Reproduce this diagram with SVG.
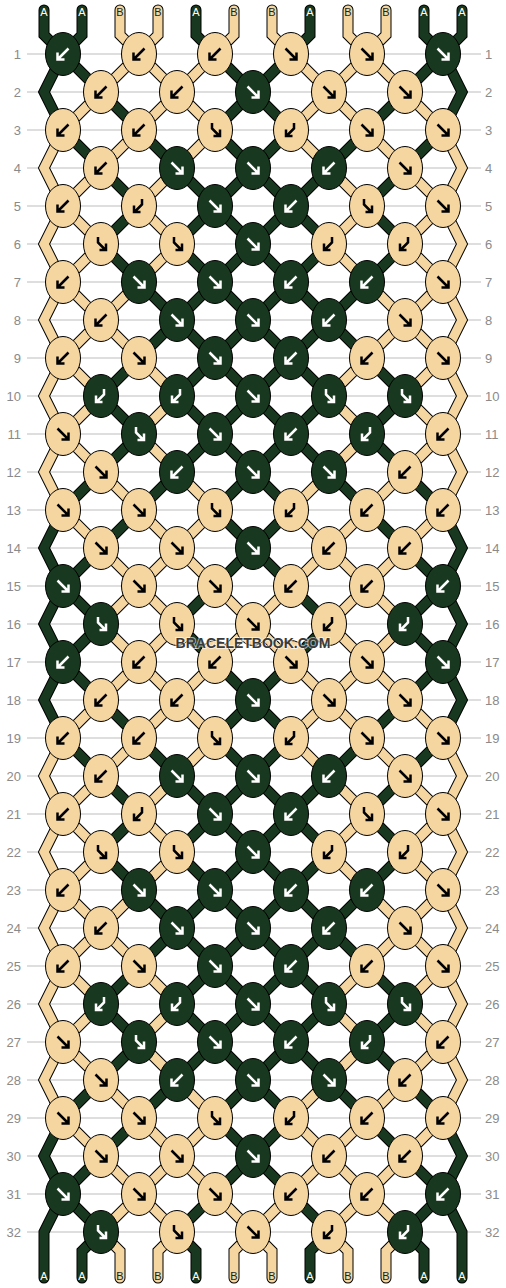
<svg xmlns="http://www.w3.org/2000/svg" width="506" height="1288" viewBox="0 0 506 1288">
<style>
.grid{fill:none;stroke:#bdbdbd;stroke-width:1}
.num{font-family:"Liberation Sans",Arial,sans-serif;font-size:13px;fill:#8a8a8a}
.lbl{font-family:"Liberation Sans",Arial,sans-serif;font-size:11px;text-anchor:middle}
.la{fill:#ffffff}.lb{fill:#222222}
.ol{fill:none;stroke:#000;stroke-width:11;stroke-linecap:round;stroke-linejoin:miter}
.cA{fill:none;stroke:#18381f;stroke-width:9;stroke-linecap:round;stroke-linejoin:miter}
.cB{fill:none;stroke:#f5d6a0;stroke-width:9;stroke-linecap:round;stroke-linejoin:miter}
.D ellipse{fill:#18381f;stroke:#000;stroke-width:1}
.L ellipse{fill:#f5d6a0;stroke:#000;stroke-width:1}
.D use{stroke:#ffffff}
.L use{stroke:#000000}
.ar{fill:none;stroke-width:2.5;stroke-linejoin:miter;stroke-linecap:butt}
.wm{font-family:"Liberation Sans",Arial,sans-serif;font-size:14px;font-weight:bold;text-anchor:middle;fill:#3a3a3a;stroke:#ffffff;stroke-width:2;stroke-opacity:0.6;paint-order:stroke}
</style>
<defs>
<path id="af" class="ar" d="M-5.5,-5.5L4.5,4.5M-1.5,5.5H5.5V-1.5"/>
<path id="ab" class="ar" d="M5.5,-5.5L-4.5,4.5M1.5,5.5H-5.5V-1.5"/>
<path id="afb" class="ar" d="M-3,-7V-1.5L4,5.5M-1.5,6H5V-0.5"/>
<path id="abf" class="ar" d="M3,-7V-1.5L-4,5.5M1.5,6H-5V-0.5"/>
<path id="hA" d="M63,54l38,38M215,54l38,38M291,54l-38,38M443,54l-38,38M101,92l38,38M253,92l-38,38M253,92l38,38M405,92l-38,38M63,130l38,38M139,130l38,38M215,130l38,38M291,130l-38,38M367,130l-38,38M443,130l-38,38M101,168l38,38M177,168l38,38M253,168l-38,38M253,168l38,38M329,168l-38,38M405,168l-38,38M139,206l-38,38M215,206l-38,38M215,206l38,38M291,206l-38,38M291,206l38,38M367,206l38,38M101,244l38,38M177,244l38,38M253,244l-38,38M253,244l38,38M329,244l-38,38M405,244l-38,38M139,282l38,38M215,282l-38,38M215,282l38,38M291,282l-38,38M291,282l38,38M367,282l-38,38M177,320l-38,38M177,320l38,38M253,320l-38,38M253,320l38,38M329,320l-38,38M329,320l38,38M139,358l-38,38M215,358l-38,38M215,358l38,38M291,358l-38,38M291,358l38,38M367,358l38,38M101,396l38,38M177,396l38,38M253,396l-38,38M253,396l38,38M329,396l-38,38M405,396l-38,38M139,434l-38,38M215,434l-38,38M215,434l38,38M291,434l-38,38M291,434l38,38M367,434l38,38M101,472l-38,38M177,472l-38,38M253,472l-38,38M253,472l38,38M329,472l38,38M405,472l38,38M139,510l-38,38M215,510l38,38M291,510l-38,38M367,510l38,38M101,548l-38,38M253,548l-38,38M253,548l38,38M405,548l38,38M63,586l38,38M215,586l-38,38M291,586l38,38M443,586l-38,38"/>
<path id="hB" d="M139,54l-38,38M139,54l38,38M215,54l-38,38M291,54l38,38M367,54l-38,38M367,54l38,38M101,92l-38,38M177,92l-38,38M177,92l38,38M329,92l-38,38M329,92l38,38M405,92l38,38M139,130l-38,38M215,130l-38,38M291,130l38,38M367,130l38,38M101,168l-38,38M177,168l-38,38M329,168l38,38M405,168l38,38M63,206l38,38M139,206l38,38M367,206l-38,38M443,206l-38,38M101,244l-38,38M177,244l-38,38M329,244l38,38M405,244l38,38M63,282l38,38M139,282l-38,38M367,282l38,38M443,282l-38,38M101,320l-38,38M101,320l38,38M405,320l-38,38M405,320l38,38M63,358l38,38M139,358l38,38M367,358l-38,38M443,358l-38,38M101,396l-38,38M177,396l-38,38M329,396l38,38M405,396l38,38M63,434l38,38M139,434l38,38M367,434l-38,38M443,434l-38,38M101,472l38,38M177,472l38,38M329,472l-38,38M405,472l-38,38M63,510l38,38M139,510l38,38M215,510l-38,38M291,510l38,38M367,510l-38,38M443,510l-38,38M101,548l38,38M177,548l-38,38M177,548l38,38M329,548l-38,38M329,548l38,38M405,548l-38,38M139,586l-38,38M139,586l38,38M215,586l38,38M291,586l-38,38M367,586l-38,38M367,586l38,38"/>
<path id="xA" d="M101,624l-38,38M177,624l38,38M329,624l-38,38M405,624l38,38M44,10V35L63,54M82,10V35L63,54M196,10V35L215,54M310,10V35L291,54M424,10V35L443,54M462,10V35L443,54M101,1232L82,1251V1278M177,1232L196,1251V1278M329,1232L310,1251V1278M405,1232L424,1251V1278M63,54L44,92L63,130M63,510L44,548L63,586L44,624L63,662L44,700L63,738M63,1118L44,1156L63,1194L44,1232V1278M443,54L462,92L443,130M443,510L462,548L443,586L462,624L443,662L462,700L443,738M443,1118L462,1156L443,1194L462,1232V1278"/>
<path id="xB" d="M101,624l38,38M177,624l-38,38M253,624l-38,38M253,624l38,38M329,624l38,38M405,624l-38,38M120,10V35L139,54M158,10V35L139,54M234,10V35L215,54M272,10V35L291,54M348,10V35L367,54M386,10V35L367,54M101,1232L120,1251V1278M177,1232L158,1251V1278M253,1232L234,1251V1278M253,1232L272,1251V1278M329,1232L348,1251V1278M405,1232L386,1251V1278M63,130L44,168L63,206L44,244L63,282L44,320L63,358L44,396L63,434L44,472L63,510M63,738L44,776L63,814L44,852L63,890L44,928L63,966L44,1004L63,1042L44,1080L63,1118M443,130L462,168L443,206L462,244L443,282L462,320L443,358L462,396L443,434L462,472L443,510M443,738L462,776L443,814L462,852L443,890L462,928L443,966L462,1004L443,1042L462,1080L443,1118"/>
</defs>
<rect width="506" height="1288" fill="#ffffff"/>
<path class="grid" d="M27,54H481M27,92H481M27,130H481M27,168H481M27,206H481M27,244H481M27,282H481M27,320H481M27,358H481M27,396H481M27,434H481M27,472H481M27,510H481M27,548H481M27,586H481M27,624H481M27,662H481M27,700H481M27,738H481M27,776H481M27,814H481M27,852H481M27,890H481M27,928H481M27,966H481M27,1004H481M27,1042H481M27,1080H481M27,1118H481M27,1156H481M27,1194H481M27,1232H481"/>
<g id="row-numbers" class="num">
<g text-anchor="end">
<text x="21" y="59">1</text><text x="21" y="97">2</text><text x="21" y="135">3</text><text x="21" y="173">4</text><text x="21" y="211">5</text><text x="21" y="249">6</text><text x="21" y="287">7</text><text x="21" y="325">8</text><text x="21" y="363">9</text><text x="21" y="401">10</text><text x="21" y="439">11</text><text x="21" y="477">12</text><text x="21" y="515">13</text><text x="21" y="553">14</text><text x="21" y="591">15</text><text x="21" y="629">16</text><text x="21" y="667">17</text><text x="21" y="705">18</text><text x="21" y="743">19</text><text x="21" y="781">20</text><text x="21" y="819">21</text><text x="21" y="857">22</text><text x="21" y="895">23</text><text x="21" y="933">24</text><text x="21" y="971">25</text><text x="21" y="1009">26</text><text x="21" y="1047">27</text><text x="21" y="1085">28</text><text x="21" y="1123">29</text><text x="21" y="1161">30</text><text x="21" y="1199">31</text><text x="21" y="1237">32</text>
</g>
<g text-anchor="start">
<text x="485" y="59">1</text><text x="485" y="97">2</text><text x="485" y="135">3</text><text x="485" y="173">4</text><text x="485" y="211">5</text><text x="485" y="249">6</text><text x="485" y="287">7</text><text x="485" y="325">8</text><text x="485" y="363">9</text><text x="485" y="401">10</text><text x="485" y="439">11</text><text x="485" y="477">12</text><text x="485" y="515">13</text><text x="485" y="553">14</text><text x="485" y="591">15</text><text x="485" y="629">16</text><text x="485" y="667">17</text><text x="485" y="705">18</text><text x="485" y="743">19</text><text x="485" y="781">20</text><text x="485" y="819">21</text><text x="485" y="857">22</text><text x="485" y="895">23</text><text x="485" y="933">24</text><text x="485" y="971">25</text><text x="485" y="1009">26</text><text x="485" y="1047">27</text><text x="485" y="1085">28</text><text x="485" y="1123">29</text><text x="485" y="1161">30</text><text x="485" y="1199">31</text><text x="485" y="1237">32</text>
</g>
</g>
<g id="connectors">
<use href="#hA" class="ol"/><use href="#hA" class="ol" transform="translate(0,608)"/>
<use href="#hB" class="ol"/><use href="#hB" class="ol" transform="translate(0,608)"/>
<use href="#xA" class="ol"/><use href="#xB" class="ol"/>
<use href="#hA" class="cA"/><use href="#hA" class="cA" transform="translate(0,608)"/>
<use href="#xA" class="cA"/>
<use href="#hB" class="cB"/><use href="#hB" class="cB" transform="translate(0,608)"/>
<use href="#xB" class="cB"/>
</g>
<g id="string-labels" class="lbl">
<text class="la" x="44" y="16">A</text><text class="la" x="82" y="16">A</text><text class="lb" x="120" y="16">B</text><text class="lb" x="158" y="16">B</text><text class="la" x="196" y="16">A</text><text class="lb" x="234" y="16">B</text><text class="lb" x="272" y="16">B</text><text class="la" x="310" y="16">A</text><text class="lb" x="348" y="16">B</text><text class="lb" x="386" y="16">B</text><text class="la" x="424" y="16">A</text><text class="la" x="462" y="16">A</text>
<text class="la" x="44" y="1280">A</text><text class="la" x="82" y="1280">A</text><text class="lb" x="120" y="1280">B</text><text class="lb" x="158" y="1280">B</text><text class="la" x="196" y="1280">A</text><text class="lb" x="234" y="1280">B</text><text class="lb" x="272" y="1280">B</text><text class="la" x="310" y="1280">A</text><text class="lb" x="348" y="1280">B</text><text class="lb" x="386" y="1280">B</text><text class="la" x="424" y="1280">A</text><text class="la" x="462" y="1280">A</text>
</g>
<g id="knots">
<g id="n1-1" class="D" transform="translate(63,54)"><ellipse rx="17.5" ry="21.5"/><use href="#ab"/></g>
<g id="n1-2" class="L" transform="translate(139,54)"><ellipse rx="17.5" ry="21.5"/><use href="#ab"/></g>
<g id="n1-3" class="L" transform="translate(215,54)"><ellipse rx="17.5" ry="21.5"/><use href="#ab"/></g>
<g id="n1-4" class="L" transform="translate(291,54)"><ellipse rx="17.5" ry="21.5"/><use href="#af"/></g>
<g id="n1-5" class="L" transform="translate(367,54)"><ellipse rx="17.5" ry="21.5"/><use href="#af"/></g>
<g id="n1-6" class="D" transform="translate(443,54)"><ellipse rx="17.5" ry="21.5"/><use href="#af"/></g>
<g id="n2-1" class="L" transform="translate(101,92)"><ellipse rx="17.5" ry="21.5"/><use href="#ab"/></g>
<g id="n2-2" class="L" transform="translate(177,92)"><ellipse rx="17.5" ry="21.5"/><use href="#ab"/></g>
<g id="n2-3" class="D" transform="translate(253,92)"><ellipse rx="17.5" ry="21.5"/><use href="#af"/></g>
<g id="n2-4" class="L" transform="translate(329,92)"><ellipse rx="17.5" ry="21.5"/><use href="#af"/></g>
<g id="n2-5" class="L" transform="translate(405,92)"><ellipse rx="17.5" ry="21.5"/><use href="#af"/></g>
<g id="n3-1" class="L" transform="translate(63,130)"><ellipse rx="17.5" ry="21.5"/><use href="#ab"/></g>
<g id="n3-2" class="L" transform="translate(139,130)"><ellipse rx="17.5" ry="21.5"/><use href="#ab"/></g>
<g id="n3-3" class="L" transform="translate(215,130)"><ellipse rx="17.5" ry="21.5"/><use href="#afb"/></g>
<g id="n3-4" class="L" transform="translate(291,130)"><ellipse rx="17.5" ry="21.5"/><use href="#abf"/></g>
<g id="n3-5" class="L" transform="translate(367,130)"><ellipse rx="17.5" ry="21.5"/><use href="#af"/></g>
<g id="n3-6" class="L" transform="translate(443,130)"><ellipse rx="17.5" ry="21.5"/><use href="#af"/></g>
<g id="n4-1" class="L" transform="translate(101,168)"><ellipse rx="17.5" ry="21.5"/><use href="#ab"/></g>
<g id="n4-2" class="D" transform="translate(177,168)"><ellipse rx="17.5" ry="21.5"/><use href="#af"/></g>
<g id="n4-3" class="D" transform="translate(253,168)"><ellipse rx="17.5" ry="21.5"/><use href="#af"/></g>
<g id="n4-4" class="D" transform="translate(329,168)"><ellipse rx="17.5" ry="21.5"/><use href="#ab"/></g>
<g id="n4-5" class="L" transform="translate(405,168)"><ellipse rx="17.5" ry="21.5"/><use href="#af"/></g>
<g id="n5-1" class="L" transform="translate(63,206)"><ellipse rx="17.5" ry="21.5"/><use href="#ab"/></g>
<g id="n5-2" class="L" transform="translate(139,206)"><ellipse rx="17.5" ry="21.5"/><use href="#abf"/></g>
<g id="n5-3" class="D" transform="translate(215,206)"><ellipse rx="17.5" ry="21.5"/><use href="#af"/></g>
<g id="n5-4" class="D" transform="translate(291,206)"><ellipse rx="17.5" ry="21.5"/><use href="#ab"/></g>
<g id="n5-5" class="L" transform="translate(367,206)"><ellipse rx="17.5" ry="21.5"/><use href="#afb"/></g>
<g id="n5-6" class="L" transform="translate(443,206)"><ellipse rx="17.5" ry="21.5"/><use href="#af"/></g>
<g id="n6-1" class="L" transform="translate(101,244)"><ellipse rx="17.5" ry="21.5"/><use href="#afb"/></g>
<g id="n6-2" class="L" transform="translate(177,244)"><ellipse rx="17.5" ry="21.5"/><use href="#afb"/></g>
<g id="n6-3" class="D" transform="translate(253,244)"><ellipse rx="17.5" ry="21.5"/><use href="#af"/></g>
<g id="n6-4" class="L" transform="translate(329,244)"><ellipse rx="17.5" ry="21.5"/><use href="#abf"/></g>
<g id="n6-5" class="L" transform="translate(405,244)"><ellipse rx="17.5" ry="21.5"/><use href="#abf"/></g>
<g id="n7-1" class="L" transform="translate(63,282)"><ellipse rx="17.5" ry="21.5"/><use href="#ab"/></g>
<g id="n7-2" class="D" transform="translate(139,282)"><ellipse rx="17.5" ry="21.5"/><use href="#af"/></g>
<g id="n7-3" class="D" transform="translate(215,282)"><ellipse rx="17.5" ry="21.5"/><use href="#af"/></g>
<g id="n7-4" class="D" transform="translate(291,282)"><ellipse rx="17.5" ry="21.5"/><use href="#ab"/></g>
<g id="n7-5" class="D" transform="translate(367,282)"><ellipse rx="17.5" ry="21.5"/><use href="#ab"/></g>
<g id="n7-6" class="L" transform="translate(443,282)"><ellipse rx="17.5" ry="21.5"/><use href="#af"/></g>
<g id="n8-1" class="L" transform="translate(101,320)"><ellipse rx="17.5" ry="21.5"/><use href="#ab"/></g>
<g id="n8-2" class="D" transform="translate(177,320)"><ellipse rx="17.5" ry="21.5"/><use href="#af"/></g>
<g id="n8-3" class="D" transform="translate(253,320)"><ellipse rx="17.5" ry="21.5"/><use href="#af"/></g>
<g id="n8-4" class="D" transform="translate(329,320)"><ellipse rx="17.5" ry="21.5"/><use href="#ab"/></g>
<g id="n8-5" class="L" transform="translate(405,320)"><ellipse rx="17.5" ry="21.5"/><use href="#af"/></g>
<g id="n9-1" class="L" transform="translate(63,358)"><ellipse rx="17.5" ry="21.5"/><use href="#ab"/></g>
<g id="n9-2" class="L" transform="translate(139,358)"><ellipse rx="17.5" ry="21.5"/><use href="#af"/></g>
<g id="n9-3" class="D" transform="translate(215,358)"><ellipse rx="17.5" ry="21.5"/><use href="#af"/></g>
<g id="n9-4" class="D" transform="translate(291,358)"><ellipse rx="17.5" ry="21.5"/><use href="#ab"/></g>
<g id="n9-5" class="L" transform="translate(367,358)"><ellipse rx="17.5" ry="21.5"/><use href="#ab"/></g>
<g id="n9-6" class="L" transform="translate(443,358)"><ellipse rx="17.5" ry="21.5"/><use href="#af"/></g>
<g id="n10-1" class="D" transform="translate(101,396)"><ellipse rx="17.5" ry="21.5"/><use href="#abf"/></g>
<g id="n10-2" class="D" transform="translate(177,396)"><ellipse rx="17.5" ry="21.5"/><use href="#abf"/></g>
<g id="n10-3" class="D" transform="translate(253,396)"><ellipse rx="17.5" ry="21.5"/><use href="#af"/></g>
<g id="n10-4" class="D" transform="translate(329,396)"><ellipse rx="17.5" ry="21.5"/><use href="#afb"/></g>
<g id="n10-5" class="D" transform="translate(405,396)"><ellipse rx="17.5" ry="21.5"/><use href="#afb"/></g>
<g id="n11-1" class="L" transform="translate(63,434)"><ellipse rx="17.5" ry="21.5"/><use href="#af"/></g>
<g id="n11-2" class="D" transform="translate(139,434)"><ellipse rx="17.5" ry="21.5"/><use href="#afb"/></g>
<g id="n11-3" class="D" transform="translate(215,434)"><ellipse rx="17.5" ry="21.5"/><use href="#af"/></g>
<g id="n11-4" class="D" transform="translate(291,434)"><ellipse rx="17.5" ry="21.5"/><use href="#ab"/></g>
<g id="n11-5" class="D" transform="translate(367,434)"><ellipse rx="17.5" ry="21.5"/><use href="#abf"/></g>
<g id="n11-6" class="L" transform="translate(443,434)"><ellipse rx="17.5" ry="21.5"/><use href="#ab"/></g>
<g id="n12-1" class="L" transform="translate(101,472)"><ellipse rx="17.5" ry="21.5"/><use href="#af"/></g>
<g id="n12-2" class="D" transform="translate(177,472)"><ellipse rx="17.5" ry="21.5"/><use href="#ab"/></g>
<g id="n12-3" class="D" transform="translate(253,472)"><ellipse rx="17.5" ry="21.5"/><use href="#af"/></g>
<g id="n12-4" class="D" transform="translate(329,472)"><ellipse rx="17.5" ry="21.5"/><use href="#af"/></g>
<g id="n12-5" class="L" transform="translate(405,472)"><ellipse rx="17.5" ry="21.5"/><use href="#ab"/></g>
<g id="n13-1" class="L" transform="translate(63,510)"><ellipse rx="17.5" ry="21.5"/><use href="#af"/></g>
<g id="n13-2" class="L" transform="translate(139,510)"><ellipse rx="17.5" ry="21.5"/><use href="#af"/></g>
<g id="n13-3" class="L" transform="translate(215,510)"><ellipse rx="17.5" ry="21.5"/><use href="#afb"/></g>
<g id="n13-4" class="L" transform="translate(291,510)"><ellipse rx="17.5" ry="21.5"/><use href="#abf"/></g>
<g id="n13-5" class="L" transform="translate(367,510)"><ellipse rx="17.5" ry="21.5"/><use href="#ab"/></g>
<g id="n13-6" class="L" transform="translate(443,510)"><ellipse rx="17.5" ry="21.5"/><use href="#ab"/></g>
<g id="n14-1" class="L" transform="translate(101,548)"><ellipse rx="17.5" ry="21.5"/><use href="#af"/></g>
<g id="n14-2" class="L" transform="translate(177,548)"><ellipse rx="17.5" ry="21.5"/><use href="#af"/></g>
<g id="n14-3" class="D" transform="translate(253,548)"><ellipse rx="17.5" ry="21.5"/><use href="#af"/></g>
<g id="n14-4" class="L" transform="translate(329,548)"><ellipse rx="17.5" ry="21.5"/><use href="#ab"/></g>
<g id="n14-5" class="L" transform="translate(405,548)"><ellipse rx="17.5" ry="21.5"/><use href="#ab"/></g>
<g id="n15-1" class="D" transform="translate(63,586)"><ellipse rx="17.5" ry="21.5"/><use href="#af"/></g>
<g id="n15-2" class="L" transform="translate(139,586)"><ellipse rx="17.5" ry="21.5"/><use href="#af"/></g>
<g id="n15-3" class="L" transform="translate(215,586)"><ellipse rx="17.5" ry="21.5"/><use href="#af"/></g>
<g id="n15-4" class="L" transform="translate(291,586)"><ellipse rx="17.5" ry="21.5"/><use href="#ab"/></g>
<g id="n15-5" class="L" transform="translate(367,586)"><ellipse rx="17.5" ry="21.5"/><use href="#ab"/></g>
<g id="n15-6" class="D" transform="translate(443,586)"><ellipse rx="17.5" ry="21.5"/><use href="#ab"/></g>
<g id="n16-1" class="D" transform="translate(101,624)"><ellipse rx="17.5" ry="21.5"/><use href="#afb"/></g>
<g id="n16-2" class="L" transform="translate(177,624)"><ellipse rx="17.5" ry="21.5"/><use href="#afb"/></g>
<g id="n16-3" class="L" transform="translate(253,624)"><ellipse rx="17.5" ry="21.5"/><use href="#af"/></g>
<g id="n16-4" class="L" transform="translate(329,624)"><ellipse rx="17.5" ry="21.5"/><use href="#abf"/></g>
<g id="n16-5" class="D" transform="translate(405,624)"><ellipse rx="17.5" ry="21.5"/><use href="#abf"/></g>
<g id="n17-1" class="D" transform="translate(63,662)"><ellipse rx="17.5" ry="21.5"/><use href="#ab"/></g>
<g id="n17-2" class="L" transform="translate(139,662)"><ellipse rx="17.5" ry="21.5"/><use href="#ab"/></g>
<g id="n17-3" class="L" transform="translate(215,662)"><ellipse rx="17.5" ry="21.5"/><use href="#ab"/></g>
<g id="n17-4" class="L" transform="translate(291,662)"><ellipse rx="17.5" ry="21.5"/><use href="#af"/></g>
<g id="n17-5" class="L" transform="translate(367,662)"><ellipse rx="17.5" ry="21.5"/><use href="#af"/></g>
<g id="n17-6" class="D" transform="translate(443,662)"><ellipse rx="17.5" ry="21.5"/><use href="#af"/></g>
<g id="n18-1" class="L" transform="translate(101,700)"><ellipse rx="17.5" ry="21.5"/><use href="#ab"/></g>
<g id="n18-2" class="L" transform="translate(177,700)"><ellipse rx="17.5" ry="21.5"/><use href="#ab"/></g>
<g id="n18-3" class="D" transform="translate(253,700)"><ellipse rx="17.5" ry="21.5"/><use href="#af"/></g>
<g id="n18-4" class="L" transform="translate(329,700)"><ellipse rx="17.5" ry="21.5"/><use href="#af"/></g>
<g id="n18-5" class="L" transform="translate(405,700)"><ellipse rx="17.5" ry="21.5"/><use href="#af"/></g>
<g id="n19-1" class="L" transform="translate(63,738)"><ellipse rx="17.5" ry="21.5"/><use href="#ab"/></g>
<g id="n19-2" class="L" transform="translate(139,738)"><ellipse rx="17.5" ry="21.5"/><use href="#ab"/></g>
<g id="n19-3" class="L" transform="translate(215,738)"><ellipse rx="17.5" ry="21.5"/><use href="#afb"/></g>
<g id="n19-4" class="L" transform="translate(291,738)"><ellipse rx="17.5" ry="21.5"/><use href="#abf"/></g>
<g id="n19-5" class="L" transform="translate(367,738)"><ellipse rx="17.5" ry="21.5"/><use href="#af"/></g>
<g id="n19-6" class="L" transform="translate(443,738)"><ellipse rx="17.5" ry="21.5"/><use href="#af"/></g>
<g id="n20-1" class="L" transform="translate(101,776)"><ellipse rx="17.5" ry="21.5"/><use href="#ab"/></g>
<g id="n20-2" class="D" transform="translate(177,776)"><ellipse rx="17.5" ry="21.5"/><use href="#af"/></g>
<g id="n20-3" class="D" transform="translate(253,776)"><ellipse rx="17.5" ry="21.5"/><use href="#af"/></g>
<g id="n20-4" class="D" transform="translate(329,776)"><ellipse rx="17.5" ry="21.5"/><use href="#ab"/></g>
<g id="n20-5" class="L" transform="translate(405,776)"><ellipse rx="17.5" ry="21.5"/><use href="#af"/></g>
<g id="n21-1" class="L" transform="translate(63,814)"><ellipse rx="17.5" ry="21.5"/><use href="#ab"/></g>
<g id="n21-2" class="L" transform="translate(139,814)"><ellipse rx="17.5" ry="21.5"/><use href="#abf"/></g>
<g id="n21-3" class="D" transform="translate(215,814)"><ellipse rx="17.5" ry="21.5"/><use href="#af"/></g>
<g id="n21-4" class="D" transform="translate(291,814)"><ellipse rx="17.5" ry="21.5"/><use href="#ab"/></g>
<g id="n21-5" class="L" transform="translate(367,814)"><ellipse rx="17.5" ry="21.5"/><use href="#afb"/></g>
<g id="n21-6" class="L" transform="translate(443,814)"><ellipse rx="17.5" ry="21.5"/><use href="#af"/></g>
<g id="n22-1" class="L" transform="translate(101,852)"><ellipse rx="17.5" ry="21.5"/><use href="#afb"/></g>
<g id="n22-2" class="L" transform="translate(177,852)"><ellipse rx="17.5" ry="21.5"/><use href="#afb"/></g>
<g id="n22-3" class="D" transform="translate(253,852)"><ellipse rx="17.5" ry="21.5"/><use href="#af"/></g>
<g id="n22-4" class="L" transform="translate(329,852)"><ellipse rx="17.5" ry="21.5"/><use href="#abf"/></g>
<g id="n22-5" class="L" transform="translate(405,852)"><ellipse rx="17.5" ry="21.5"/><use href="#abf"/></g>
<g id="n23-1" class="L" transform="translate(63,890)"><ellipse rx="17.5" ry="21.5"/><use href="#ab"/></g>
<g id="n23-2" class="D" transform="translate(139,890)"><ellipse rx="17.5" ry="21.5"/><use href="#af"/></g>
<g id="n23-3" class="D" transform="translate(215,890)"><ellipse rx="17.5" ry="21.5"/><use href="#af"/></g>
<g id="n23-4" class="D" transform="translate(291,890)"><ellipse rx="17.5" ry="21.5"/><use href="#ab"/></g>
<g id="n23-5" class="D" transform="translate(367,890)"><ellipse rx="17.5" ry="21.5"/><use href="#ab"/></g>
<g id="n23-6" class="L" transform="translate(443,890)"><ellipse rx="17.5" ry="21.5"/><use href="#af"/></g>
<g id="n24-1" class="L" transform="translate(101,928)"><ellipse rx="17.5" ry="21.5"/><use href="#ab"/></g>
<g id="n24-2" class="D" transform="translate(177,928)"><ellipse rx="17.5" ry="21.5"/><use href="#af"/></g>
<g id="n24-3" class="D" transform="translate(253,928)"><ellipse rx="17.5" ry="21.5"/><use href="#af"/></g>
<g id="n24-4" class="D" transform="translate(329,928)"><ellipse rx="17.5" ry="21.5"/><use href="#ab"/></g>
<g id="n24-5" class="L" transform="translate(405,928)"><ellipse rx="17.5" ry="21.5"/><use href="#af"/></g>
<g id="n25-1" class="L" transform="translate(63,966)"><ellipse rx="17.5" ry="21.5"/><use href="#ab"/></g>
<g id="n25-2" class="L" transform="translate(139,966)"><ellipse rx="17.5" ry="21.5"/><use href="#af"/></g>
<g id="n25-3" class="D" transform="translate(215,966)"><ellipse rx="17.5" ry="21.5"/><use href="#af"/></g>
<g id="n25-4" class="D" transform="translate(291,966)"><ellipse rx="17.5" ry="21.5"/><use href="#ab"/></g>
<g id="n25-5" class="L" transform="translate(367,966)"><ellipse rx="17.5" ry="21.5"/><use href="#ab"/></g>
<g id="n25-6" class="L" transform="translate(443,966)"><ellipse rx="17.5" ry="21.5"/><use href="#af"/></g>
<g id="n26-1" class="D" transform="translate(101,1004)"><ellipse rx="17.5" ry="21.5"/><use href="#abf"/></g>
<g id="n26-2" class="D" transform="translate(177,1004)"><ellipse rx="17.5" ry="21.5"/><use href="#abf"/></g>
<g id="n26-3" class="D" transform="translate(253,1004)"><ellipse rx="17.5" ry="21.5"/><use href="#af"/></g>
<g id="n26-4" class="D" transform="translate(329,1004)"><ellipse rx="17.5" ry="21.5"/><use href="#afb"/></g>
<g id="n26-5" class="D" transform="translate(405,1004)"><ellipse rx="17.5" ry="21.5"/><use href="#afb"/></g>
<g id="n27-1" class="L" transform="translate(63,1042)"><ellipse rx="17.5" ry="21.5"/><use href="#af"/></g>
<g id="n27-2" class="D" transform="translate(139,1042)"><ellipse rx="17.5" ry="21.5"/><use href="#afb"/></g>
<g id="n27-3" class="D" transform="translate(215,1042)"><ellipse rx="17.5" ry="21.5"/><use href="#af"/></g>
<g id="n27-4" class="D" transform="translate(291,1042)"><ellipse rx="17.5" ry="21.5"/><use href="#ab"/></g>
<g id="n27-5" class="D" transform="translate(367,1042)"><ellipse rx="17.5" ry="21.5"/><use href="#abf"/></g>
<g id="n27-6" class="L" transform="translate(443,1042)"><ellipse rx="17.5" ry="21.5"/><use href="#ab"/></g>
<g id="n28-1" class="L" transform="translate(101,1080)"><ellipse rx="17.5" ry="21.5"/><use href="#af"/></g>
<g id="n28-2" class="D" transform="translate(177,1080)"><ellipse rx="17.5" ry="21.5"/><use href="#ab"/></g>
<g id="n28-3" class="D" transform="translate(253,1080)"><ellipse rx="17.5" ry="21.5"/><use href="#af"/></g>
<g id="n28-4" class="D" transform="translate(329,1080)"><ellipse rx="17.5" ry="21.5"/><use href="#af"/></g>
<g id="n28-5" class="L" transform="translate(405,1080)"><ellipse rx="17.5" ry="21.5"/><use href="#ab"/></g>
<g id="n29-1" class="L" transform="translate(63,1118)"><ellipse rx="17.5" ry="21.5"/><use href="#af"/></g>
<g id="n29-2" class="L" transform="translate(139,1118)"><ellipse rx="17.5" ry="21.5"/><use href="#af"/></g>
<g id="n29-3" class="L" transform="translate(215,1118)"><ellipse rx="17.5" ry="21.5"/><use href="#afb"/></g>
<g id="n29-4" class="L" transform="translate(291,1118)"><ellipse rx="17.5" ry="21.5"/><use href="#abf"/></g>
<g id="n29-5" class="L" transform="translate(367,1118)"><ellipse rx="17.5" ry="21.5"/><use href="#ab"/></g>
<g id="n29-6" class="L" transform="translate(443,1118)"><ellipse rx="17.5" ry="21.5"/><use href="#ab"/></g>
<g id="n30-1" class="L" transform="translate(101,1156)"><ellipse rx="17.5" ry="21.5"/><use href="#af"/></g>
<g id="n30-2" class="L" transform="translate(177,1156)"><ellipse rx="17.5" ry="21.5"/><use href="#af"/></g>
<g id="n30-3" class="D" transform="translate(253,1156)"><ellipse rx="17.5" ry="21.5"/><use href="#af"/></g>
<g id="n30-4" class="L" transform="translate(329,1156)"><ellipse rx="17.5" ry="21.5"/><use href="#ab"/></g>
<g id="n30-5" class="L" transform="translate(405,1156)"><ellipse rx="17.5" ry="21.5"/><use href="#ab"/></g>
<g id="n31-1" class="D" transform="translate(63,1194)"><ellipse rx="17.5" ry="21.5"/><use href="#af"/></g>
<g id="n31-2" class="L" transform="translate(139,1194)"><ellipse rx="17.5" ry="21.5"/><use href="#af"/></g>
<g id="n31-3" class="L" transform="translate(215,1194)"><ellipse rx="17.5" ry="21.5"/><use href="#af"/></g>
<g id="n31-4" class="L" transform="translate(291,1194)"><ellipse rx="17.5" ry="21.5"/><use href="#ab"/></g>
<g id="n31-5" class="L" transform="translate(367,1194)"><ellipse rx="17.5" ry="21.5"/><use href="#ab"/></g>
<g id="n31-6" class="D" transform="translate(443,1194)"><ellipse rx="17.5" ry="21.5"/><use href="#ab"/></g>
<g id="n32-1" class="D" transform="translate(101,1232)"><ellipse rx="17.5" ry="21.5"/><use href="#afb"/></g>
<g id="n32-2" class="L" transform="translate(177,1232)"><ellipse rx="17.5" ry="21.5"/><use href="#afb"/></g>
<g id="n32-3" class="L" transform="translate(253,1232)"><ellipse rx="17.5" ry="21.5"/><use href="#af"/></g>
<g id="n32-4" class="L" transform="translate(329,1232)"><ellipse rx="17.5" ry="21.5"/><use href="#abf"/></g>
<g id="n32-5" class="D" transform="translate(405,1232)"><ellipse rx="17.5" ry="21.5"/><use href="#abf"/></g>
</g>
<text id="watermark" class="wm" x="253" y="648">BRACELETBOOK.COM</text>
</svg>
